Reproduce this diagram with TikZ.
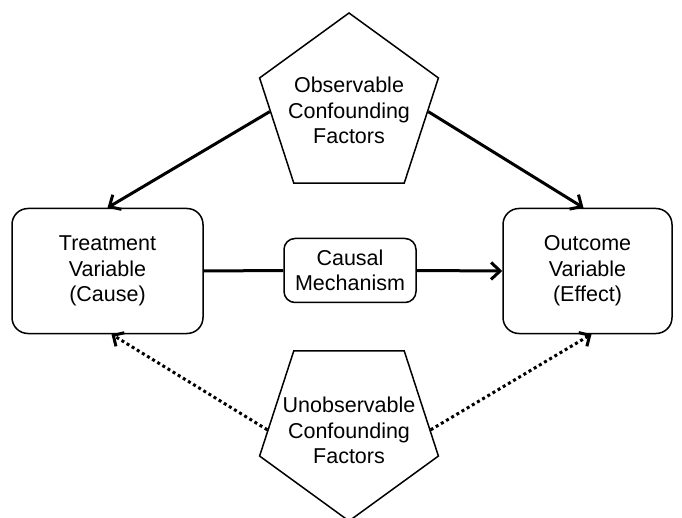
\documentclass[tikz,border=0pt]{standalone}
\usepackage{fontspec}
\setmainfont{Liberation Sans}
\usetikzlibrary{shapes.geometric,arrows.meta,calc}
\newcommand\pentxt[1]{\smash{\raisebox{-11.5pt}{\makebox[0pt]{\begin{tabular}{@{}c@{}}#1\end{tabular}}}}}
\begin{document}
\begin{tikzpicture}[x=1pt,y=-1pt,
  lbl/.style={font=\fontsize{21.5}{25.5}\selectfont, align=center},
  pent/.style={draw, line width=1.5pt, regular polygon, regular polygon sides=5, minimum size=188pt, inner sep=0pt, lbl},
  vbox/.style={draw, line width=1.5pt, lbl, inner sep=0pt},
  solidarrow/.style={line width=3pt, -{Straight Barb[length=9pt,width=17pt]}},
  dotarrow/.style={line width=3pt, dash pattern=on 3pt off 3pt, -{Straight Barb[length=8pt,width=16pt]}}
]
\useasboundingbox (0,0) rectangle (682,518);
\fill[white] (0,0) rectangle (682,518);
\node[pent] (obs) at (349,107) {\pentxt{Observable\\Confounding\\Factors}};
\node[pent, shape border rotate=180] (unobs) at (349,427) {\pentxt{Unobservable\\Confounding\\Factors}};
\node[vbox, rounded corners=16pt, minimum width=191pt, minimum height=125pt] (treat) at (107.5,271) {Treatment\\Variable\\(Cause)};
\node[vbox, rounded corners=11pt, minimum width=132pt, minimum height=64pt] (mech) at (350,270.5) {Causal\\Mechanism};
\node[vbox, rounded corners=16pt, minimum width=169pt, minimum height=125pt] (out) at (587.5,271) {Outcome\\Variable\\(Effect)};
\draw[line width=3pt] (treat.east) -- (mech.west);
\draw[solidarrow] (mech.east) -- (out.west);
\draw[solidarrow] ($(obs.corner 2)!0.32!(obs.corner 3)$) -- (treat.north);
\draw[solidarrow] ($(obs.corner 5)!0.32!(obs.corner 4)$) -- ([xshift=-4pt]out.north);
\draw[dotarrow] ($(unobs.corner 4)!0.75!(unobs.corner 5)$) -- ([xshift=4pt]treat.south);
\draw[dotarrow] ($(unobs.corner 3)!0.75!(unobs.corner 2)$) -- ([xshift=4pt]out.south);
\end{tikzpicture}
\end{document}
